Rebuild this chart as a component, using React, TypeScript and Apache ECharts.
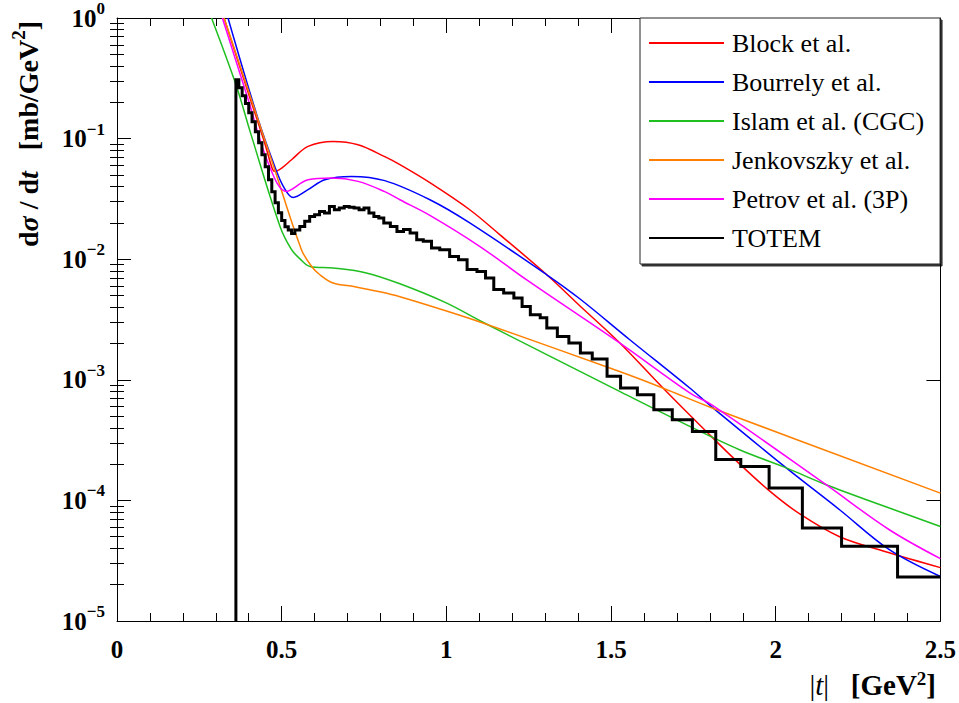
import React, { useEffect, useRef } from "react";
import * as echarts from "echarts";

const FONT = "Liberation Serif";

// axis ranges / ticks
const X_MIN = 0;
const X_MAX = 2.5;
const X_STEP = 0.5;
const yDecades = [1e-5, 1e-4, 1e-3, 1e-2, 1e-1, 1];

// legend entries
const seriesNames = [
  "Block et al.",
  "Bourrely et al.",
  "Islam et al. (CGC)",
  "Jenkovszky et al.",
  "Petrov et al. (3P)",
  "TOTEM",
];
const seriesColors = ["#ff0000", "#0000ff", "#1fbf1f", "#ff8000", "#ff00ff", "#000000"];

// Block et al.
const blockT = [0.325, 0.4, 0.45, 0.47, 0.479, 0.5, 0.53, 0.58, 0.656, 0.732, 0.813, 0.859, 0.95, 1.071, 1.162, 1.305, 1.405, 1.526, 1.657, 1.79, 1.89, 1.981, 2.072, 2.194, 2.345, 2.5];
const blockV = [1.0, 0.233, 0.089, 0.058, 0.0535, 0.057, 0.0668, 0.0861, 0.0948, 0.089, 0.0708, 0.0608, 0.0431, 0.0257, 0.016, 0.00743, 0.00411, 0.00203, 0.000859, 0.000371, 0.000201, 0.00012, 0.0000776, 0.00005, 0.0000368, 0.0000277];

// Bourrely et al.
const bourrelyT = [0.337, 0.429, 0.479, 0.505, 0.535, 0.58, 0.631, 0.712, 0.813, 0.95, 1.071, 1.305, 1.405, 1.557, 1.739, 1.804, 2.032, 2.194, 2.345, 2.5];
const bourrelyV = [1.0, 0.1435, 0.0588, 0.0402, 0.0325, 0.0377, 0.0456, 0.0486, 0.0448, 0.0311, 0.02, 0.00743, 0.0047, 0.00215, 0.000855, 0.000602, 0.000186, 0.0000837, 0.000039, 0.0000234];

// Islam et al. (CGC)
const islamT = [0.287, 0.363, 0.404, 0.495, 0.53, 0.555, 0.586, 0.656, 0.757, 0.859, 0.998, 1.111, 1.526, 1.739, 1.89, 2.032, 2.153, 2.345, 2.5];
const islamV = [1.0, 0.271, 0.1148, 0.0187, 0.012, 0.0101, 0.00871, 0.00845, 0.00769, 0.00625, 0.00436, 0.003, 0.000802, 0.000411, 0.000263, 0.000186, 0.000135, 0.0000865, 0.0000608];

// Jenkovszky et al.
const jenkT = [0.325, 0.4, 0.479, 0.56, 0.591, 0.616, 0.656, 0.722, 0.798, 0.859, 0.998, 1.111, 1.526, 1.657, 1.805, 2.5];
const jenkV = [1.0, 0.245, 0.0552, 0.012, 0.00871, 0.00743, 0.00635, 0.00591, 0.00537, 0.00489, 0.00374, 0.00296, 0.00117, 0.000855, 0.000587, 0.000115];

// Petrov et al. (3P)
const petrovT = [0.32, 0.4, 0.459, 0.515, 0.58, 0.651, 0.732, 0.813, 0.859, 0.95, 1.101, 1.243, 1.526, 1.739, 1.805, 2.153, 2.345, 2.5];
const petrovV = [1.0, 0.204, 0.0628, 0.0365, 0.0456, 0.0471, 0.0442, 0.0363, 0.0311, 0.0231, 0.0128, 0.00676, 0.00202, 0.000778, 0.000622, 0.000135, 0.0000571, 0.0000329];

// TOTEM histogram: bin edges and bin contents
const totemEdges = [
  0.361, 0.37, 0.38, 0.39, 0.4, 0.41, 0.42, 0.43, 0.44, 0.45, 0.46, 0.47, 0.48, 0.49, 0.5, 0.51, 0.52, 0.53, 0.54,
  0.555, 0.57, 0.585, 0.6, 0.615, 0.63, 0.645, 0.66, 0.675, 0.69, 0.705, 0.72, 0.735, 0.75, 0.765, 0.78, 0.795, 0.81,
  0.83, 0.85, 0.87, 0.89, 0.91, 0.93, 0.955, 0.98, 1.01, 1.037, 1.063, 1.093, 1.119, 1.144, 1.174, 1.205, 1.23, 1.255,
  1.285, 1.305, 1.337, 1.372, 1.407, 1.443, 1.488, 1.529, 1.58, 1.63, 1.686, 1.747, 1.818, 1.894, 1.98, 2.081, 2.2,
  2.37, 2.5,
];
const totemValues = [
  0.308, 0.264, 0.227, 0.195, 0.164, 0.138, 0.114, 0.0925, 0.0736, 0.0585, 0.0456, 0.0363, 0.0294, 0.0243, 0.0209, 0.0186, 0.0175, 0.0163,
  0.0175, 0.0187, 0.0206, 0.0226, 0.0234, 0.0249, 0.0242, 0.0274, 0.0257, 0.0266, 0.0274, 0.027, 0.0266, 0.0257, 0.0266, 0.0242, 0.0226, 0.022,
  0.02, 0.0187, 0.017, 0.0176, 0.0165, 0.0145, 0.0141, 0.0124, 0.012, 0.01055, 0.0099, 0.0082, 0.0079, 0.007, 0.0056, 0.00525, 0.00477, 0.00406,
  0.00347, 0.00327, 0.00269, 0.00229, 0.00202, 0.00167, 0.00149, 0.00107, 0.000855, 0.000753, 0.000565, 0.000467, 0.000373, 0.000218, 0.000191,
  0.000127, 0.000059, 0.0000416, 0.0000232,
];

export default function App() {
  const ref = useRef<HTMLDivElement>(null);

  useEffect(() => {
    if (!ref.current) return;
    const chart = echarts.init(ref.current, null, { renderer: "svg" });

    const Y_MIN = yDecades[0];
    const Y_MAX = yDecades[yDecades.length - 1];

    const pairs = (t: number[], v: number[]) => t.map((x, i) => [x, v[i]]);

    const totemData: number[][] = [[totemEdges[0], Y_MIN]];
    totemValues.forEach((v, i) => {
      totemData.push([totemEdges[i], v]);
      totemData.push([totemEdges[i + 1], v]);
    });

    const minorLog: number[] = [];
    for (let d = 0; d < yDecades.length - 1; d++) {
      for (let k = 2; k <= 9; k++) minorLog.push(k * yDecades[d]);
    }

    const curves = [
      pairs(blockT, blockV),
      pairs(bourrelyT, bourrelyV),
      pairs(islamT, islamV),
      pairs(jenkT, jenkV),
      pairs(petrovT, petrovV),
    ];

    const black = "#000";
    const xBase: any = {
      type: "value",
      min: X_MIN,
      max: X_MAX,
      interval: X_STEP,
      splitLine: { show: false },
      minorSplitLine: { show: false },
      axisLine: { show: true, onZero: false, lineStyle: { color: black, width: 1 } },
      axisTick: { show: true, inside: true, length: 15, lineStyle: { color: black, width: 1 } },
      minorTick: { show: true, splitNumber: 5, length: 8, lineStyle: { color: black, width: 1 } },
    };
    const yBase: any = {
      type: "log",
      logBase: 10,
      min: Y_MIN,
      max: Y_MAX,
      splitLine: { show: false },
      axisLine: { show: true, onZero: false, lineStyle: { color: black, width: 1 } },
    };

    const supRich = {
      b: { fontFamily: FONT, fontWeight: "bold", fontSize: 25, color: black, lineHeight: 36 },
      s: { fontFamily: FONT, fontWeight: "bold", fontSize: 17, color: black, lineHeight: 16, verticalAlign: "top" },
    };

    const option: any = {
      animation: false,
      backgroundColor: "#fff",
      textStyle: { fontFamily: FONT },
      grid: { left: 117, right: 18, top: 18, bottom: 82, containLabel: false },
      xAxis: [
        {
          ...xBase,
          position: "bottom",
          axisLabel: { fontFamily: FONT, fontWeight: "bold", fontSize: 25, color: black, margin: 16 },
        },
        { ...xBase, position: "top", axisLabel: { show: false } },
      ],
      yAxis: [
        {
          ...yBase,
          position: "left",
          axisTick: { show: true, inside: true, length: 14, lineStyle: { color: black, width: 1 } },
          axisLabel: {
            margin: 12,
            fontFamily: FONT,
            formatter: (v: number) => {
              const e = Math.round(Math.log10(v));
              return e === 0 ? "{b|10}{s|0}" : "{b|10}{s|\u2212" + -e + "}";
            },
            rich: supRich,
          },
        },
        {
          ...yBase,
          position: "left",
          axisLine: { show: false },
          axisTick: { show: true, inside: true, length: 7, customValues: minorLog, lineStyle: { color: black, width: 1 } },
          axisLabel: { show: false },
        },
        {
          ...yBase,
          position: "right",
          axisTick: { show: true, inside: true, length: 14, lineStyle: { color: black, width: 1 } },
          axisLabel: { show: false },
        },
        {
          ...yBase,
          position: "right",
          axisLine: { show: false },
          axisTick: { show: true, inside: true, length: 7, customValues: minorLog, lineStyle: { color: black, width: 1 } },
          axisLabel: { show: false },
        },
      ],
      legend: {
        data: seriesNames,
        orient: "vertical",
        left: 640,
        top: 18,
        itemWidth: 75,
        itemHeight: 14,
        itemGap: 13,
        padding: [12, 16, 13, 8],
        borderColor: "#222",
        borderWidth: 1,
        backgroundColor: "#fff",
        shadowColor: "rgba(0,0,0,0.8)",
        shadowOffsetX: 2,
        shadowOffsetY: 2,
        shadowBlur: 0,
        selectedMode: false,
        itemStyle: { opacity: 0 },
        formatter: (name: string) => "{a|" + name + "}",
        textStyle: {
          fontFamily: FONT,
          fontSize: 26,
          color: black,
          rich: { a: { fontFamily: FONT, fontSize: 26, color: black, lineHeight: 26, padding: [0, 0, 0, 3] } },
        },
      },
      graphic: [
        {
          type: "text",
          x: 28,
          y: 134,
          rotation: Math.PI / 2,
          style: {
            text: "{b|d}{bi|\u03c3}{b| / d}{bi|t}{b|   [mb/GeV}{s|2}{b|]}",
            align: "center",
            verticalAlign: "middle",
            rich: {
              b: { fontFamily: FONT, fontWeight: "bold", fontSize: 28, fill: black, lineHeight: 38 },
              bi: { fontFamily: FONT, fontWeight: "bold", fontStyle: "italic", fontSize: 28, fill: black, lineHeight: 38 },
              s: { fontFamily: FONT, fontWeight: "bold", fontSize: 19, fill: black, lineHeight: 17, verticalAlign: "top" },
            },
          },
        },
        {
          type: "text",
          x: 936,
          y: 685,
          style: {
            text: "{n||}{i|t}{n||}{b|   [GeV}{s|2}{b|]}",
            align: "right",
            verticalAlign: "middle",
            rich: {
              n: { fontFamily: FONT, fontSize: 29, fill: black, lineHeight: 32 },
              i: { fontFamily: FONT, fontStyle: "italic", fontSize: 29, fill: black, lineHeight: 32 },
              b: { fontFamily: FONT, fontWeight: "bold", fontSize: 29, fill: black, lineHeight: 32 },
              s: { fontFamily: FONT, fontWeight: "bold", fontSize: 19, fill: black, lineHeight: 14, verticalAlign: "top" },
            },
          },
        },
      ],
      series: [
        ...curves.map((d, i) => ({
          name: seriesNames[i],
          type: "line",
          data: d,
          xAxisIndex: 0,
          yAxisIndex: 0,
          smooth: 0.35,
          symbol: "none",
          clip: true,
          lineStyle: { color: seriesColors[i], width: 1.5 },
          itemStyle: { color: seriesColors[i] },
          z: 2,
        })),
        {
          name: seriesNames[5],
          type: "line",
          data: totemData,
          xAxisIndex: 0,
          yAxisIndex: 0,
          symbol: "none",
          clip: true,
          lineStyle: { color: seriesColors[5], width: 3, join: "miter", cap: "butt" },
          itemStyle: { color: seriesColors[5] },
          z: 3,
        },
      ],
    };

    chart.setOption(option);
    return () => chart.dispose();
  }, []);

  return (
    <div
      ref={ref}
      style={{ position: "fixed", left: 0, top: 0, width: 959, height: 703, background: "#fff" }}
    />
  );
}
